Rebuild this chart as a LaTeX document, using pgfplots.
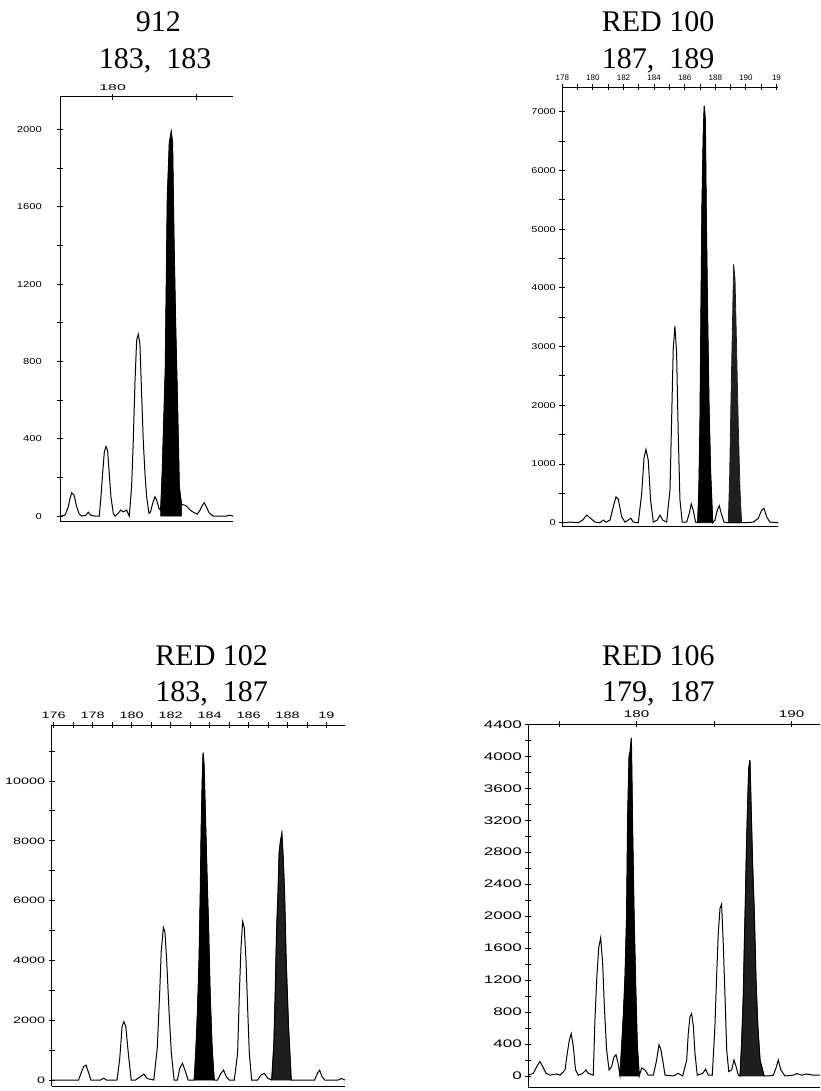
\documentclass[border=0pt]{standalone}
\usepackage{fontspec}
\setmainfont{Liberation Serif}
\newfontfamily\fsA[FakeStretch=1.0]{Liberation Sans}
\newfontfamily\fsB[FakeStretch=1.3]{Liberation Sans}
\newfontfamily\fsC[FakeStretch=1.55]{Liberation Sans}
\newfontfamily\fsD[FakeStretch=1.9]{Liberation Sans}
\usepackage{pgfplots}
\pgfplotsset{compat=1.18}
\pgfplotsset{epg/.style={
  scale only axis,
  axis y line*=left,
  xtick pos=right, xticklabel pos=right,
  tick align=center,
  major tick length=6pt,
  scaled x ticks=false, scaled y ticks=false,
  every tick/.style={black, line width=0.9pt},
  axis line style={line width=0.9pt},
  tick label style={/pgf/number format/assume math mode=true},
  anchor=south west,
},
trace/.style={black, line width=1pt, mark=none},
pk/.style={fill=black, draw=black, line width=0.6pt, mark=none},
pkg/.style={fill=black!88, draw=black!88, line width=0.8pt, mark=none},
}
\newcommand\ttl[1]{\fontsize{30}{36}\selectfont #1}
\begin{document}
\begin{tikzpicture}
\useasboundingbox (0pt,0pt) rectangle (820pt,-1091pt);
% titles
\node[anchor=base] at (158.3pt,-31.7pt) {\ttl{912}};
\node[anchor=base] at (155pt,-68.3pt) {\ttl{183,\ \ 183}};
\node[anchor=base] at (658pt,-31.7pt) {\ttl{RED 100}};
\node[anchor=base] at (658pt,-68.3pt) {\ttl{187,\ \ 189}};
\node[anchor=base] at (211.7pt,-665pt) {\ttl{RED 102}};
\node[anchor=base] at (211.7pt,-701.7pt) {\ttl{183,\ \ 187}};
\node[anchor=base] at (658.3pt,-665pt) {\ttl{RED 106}};
\node[anchor=base] at (658.3pt,-701.7pt) {\ttl{179,\ \ 187}};

% Panel 1: 912
\begin{axis}[epg, at={(60.3pt,-521.7pt)}, width=173pt, height=425pt,
  xmin=173.77, xmax=194.37, ymin=-29, ymax=2169,
  xtick={180,190}, xticklabels={180,},
  ytick={0,200,...,2000}, yticklabels={0,,400,,800,,1200,,1600,,2000},
  xticklabel style={font=\fsD\fontsize{8.4}{9}\selectfont},
  yticklabel style={font=\fsB\fontsize{8.6}{9}\selectfont, xshift=-12pt}]
\addplot[pk] coordinates {(185.71,0)(185.91,230)(186.27,760)(186.51,1640)(186.75,1930)(186.98,1988)(187.14,1930)(187.30,1450)(187.50,1000)(187.74,560)(187.94,150)(188.21,60)(188.21,0)} \closedcycle;
\addplot[trace] coordinates {(173.77,0)(174.33,5)(174.72,48)(174.92,90)(175.12,120)(175.40,110)(175.71,50)(176.03,10)(176.31,0)(176.83,5)(177.10,20)(177.38,5)(177.90,0)(178.41,0)(178.61,100)(178.81,220)(179.01,330)(179.21,360)(179.40,340)(179.60,220)(179.80,100)(180.08,14)(180.28,0)(180.67,14)(180.95,31)(181.27,22)(181.67,31)(181.98,0)(182.26,150)(182.46,390)(182.66,690)(182.86,910)(183.06,940)(183.25,890)(183.45,635)(183.65,390)(183.85,220)(184.05,100)(184.33,14)(184.52,22)(184.76,65)(185.04,100)(185.24,83)(185.52,40)(185.71,30)(185.91,230)(186.27,760)(186.51,1640)(186.75,1930)(186.98,1988)(187.14,1930)(187.30,1450)(187.50,1000)(187.74,560)(187.94,150)(188.21,60)(188.73,55)(189.13,35)(189.60,20)(190.08,10)(190.40,30)(190.67,55)(190.91,70)(191.19,45)(191.51,15)(191.98,0)(193.57,0)(193.97,5)(194.37,0)};
\end{axis}

% Panel 2: RED 100
\begin{axis}[epg, at={(562.3pt,-526.7pt)}, width=216pt, height=439.4pt,
  xmin=178, xmax=192.12, ymin=-68, ymax=7416,
  xtick={178,...,192}, xticklabels={178,,180,,182,,184,,186,,188,,190,,19},
  ytick={0,500,...,7000}, yticklabels={0,,1000,,2000,,3000,,4000,,5000,,6000,,7000},
  xticklabel style={font=\fsA\fontsize{8}{9}\selectfont},
  yticklabel style={font=\fsB\fontsize{8.4}{9}\selectfont}]
\addplot[pk] coordinates {(186.85,0)(186.93,600)(187.00,1700)(187.06,3500)(187.13,5400)(187.22,6700)(187.28,7100)(187.35,6850)(187.41,5250)(187.50,3500)(187.59,2000)(187.69,900)(187.83,0)} \closedcycle;
\addplot[pkg] coordinates {(188.85,0)(188.94,800)(189.02,2000)(189.11,3200)(189.20,4400)(189.29,4150)(189.39,3000)(189.50,1700)(189.61,600)(189.72,0)} \closedcycle;
\addplot[trace] coordinates {(178.00,0)(178.50,10)(179.05,0)(179.33,45)(179.59,130)(179.85,75)(180.14,10)(180.46,0)(180.68,45)(180.85,10)(181.12,45)(181.33,270)(181.51,440)(181.66,400)(181.88,100)(182.10,10)(182.31,45)(182.49,75)(182.64,10)(182.97,0)(183.19,500)(183.34,1100)(183.47,1250)(183.62,1060)(183.77,390)(183.95,10)(184.21,45)(184.38,130)(184.56,45)(184.82,10)(185.04,560)(185.15,1800)(185.25,2950)(185.36,3350)(185.47,2900)(185.58,1500)(185.69,390)(185.84,10)(186.13,10)(186.30,160)(186.43,320)(186.56,210)(186.71,10)(186.85,0)(186.93,600)(187.00,1700)(187.06,3500)(187.13,5400)(187.22,6700)(187.28,7100)(187.35,6850)(187.41,5250)(187.50,3500)(187.59,2000)(187.69,900)(187.83,0)(187.98,45)(188.13,215)(188.26,290)(188.39,160)(188.57,10)(188.85,0)(190.05,0)(190.48,10)(190.81,75)(191.03,215)(191.18,245)(191.36,100)(191.57,10)(192.12,0)};
\end{axis}

% Panel 3: RED 102
\begin{axis}[epg, at={(51.7pt,-1086pt)}, width=293.3pt, height=361pt,
  xmin=175.9, xmax=190.95, ymin=-200, ymax=11873,
  xtick={176,...,190}, xticklabels={176,,178,,180,,182,,184,,186,,188,,19},
  ytick={0,1000,...,11000}, yticklabels={0,,2000,,4000,,6000,,8000,,10000,},
  xticklabel style={font=\fsC\fontsize{9.3}{10}\selectfont},
  yticklabel style={font=\fsC\fontsize{9.3}{10}\selectfont}]
\addplot[pk] coordinates {(183.21,0)(183.29,900)(183.38,2300)(183.46,4000)(183.52,6100)(183.57,8400)(183.63,10200)(183.67,10950)(183.72,10500)(183.79,8800)(183.86,7100)(183.95,5100)(184.03,2900)(184.13,1100)(184.24,0)} \closedcycle;
\addplot[pkg] coordinates {(187.19,0)(187.30,1200)(187.37,2900)(187.44,5000)(187.51,6200)(187.57,7600)(187.64,8000)(187.71,8250)(187.78,7400)(187.85,6200)(187.93,4000)(188.05,1800)(188.19,0)} \closedcycle;
\addplot[trace] coordinates {(175.9,0)(177.28,0)(177.40,220)(177.54,450)(177.66,500)(177.79,250)(177.91,0)(178.40,0)(178.57,60)(178.70,0)(179.25,0)(179.39,700)(179.51,1780)(179.60,1950)(179.70,1800)(179.83,900)(179.98,0)(180.20,0)(180.42,100)(180.63,200)(180.80,50)(181.14,0)(181.32,1100)(181.44,2900)(181.52,4300)(181.63,5100)(181.71,4950)(181.80,4000)(181.92,2300)(182.04,900)(182.18,0)(182.35,0)(182.47,390)(182.61,560)(182.74,330)(182.90,0)(183.21,0)(183.29,900)(183.38,2300)(183.46,4000)(183.52,6100)(183.57,8400)(183.63,10200)(183.67,10950)(183.72,10500)(183.79,8800)(183.86,7100)(183.95,5100)(184.03,2900)(184.13,1100)(184.24,0)(184.41,0)(184.58,220)(184.72,330)(184.86,110)(185.01,0)(185.27,0)(185.44,900)(185.53,2900)(185.61,4400)(185.70,5300)(185.78,5100)(185.87,4000)(185.96,2300)(186.04,900)(186.16,0)(186.47,0)(186.64,170)(186.81,220)(186.99,60)(187.19,0)(187.30,1200)(187.37,2900)(187.44,5000)(187.51,6200)(187.57,7600)(187.64,8000)(187.71,8250)(187.78,7400)(187.85,6200)(187.93,4000)(188.05,1800)(188.19,0)(188.53,0)(189.39,0)(189.53,220)(189.65,330)(189.77,110)(189.91,0)(190.59,0)(190.77,50)(190.95,0)};
\end{axis}

% Panel 4: RED 106
\begin{axis}[epg, at={(528.3pt,-1087.3pt)}, width=291.7pt, height=363pt,
  xmin=173.01, xmax=191.83, ymin=-142, ymax=4400,
  xtick={175,180,185,190}, xticklabels={,180,,190},
  ytick={0,200,...,4400}, yticklabels={0,,400,,800,,1200,,1600,,2000,,2400,,2800,,3200,,3600,,4000,,4400},
  xticklabel style={font=\fsC\fontsize{9.8}{10}\selectfont},
  yticklabel style={font=\fsC\fontsize{11}{12}\selectfont}]
\addplot[pk] coordinates {(178.92,0)(179.03,370)(179.14,750)(179.25,1250)(179.35,2000)(179.42,3250)(179.51,4000)(179.57,4050)(179.66,4230)(179.74,3100)(179.83,2050)(179.94,1120)(180.04,400)(180.17,0)} \closedcycle;
\addplot[pkg] coordinates {(186.67,0)(186.77,400)(186.88,1000)(186.95,1650)(187.01,2150)(187.08,2800)(187.14,3250)(187.23,3850)(187.31,3950)(187.40,3250)(187.48,2650)(187.59,2050)(187.70,1200)(187.81,650)(187.96,200)(188.22,0)} \closedcycle;
\addplot[trace] coordinates {(173.01,10)(173.33,33)(173.55,117)(173.76,180)(173.94,117)(174.15,33)(174.41,10)(174.84,25)(175.05,10)(175.38,75)(175.53,290)(175.66,450)(175.78,530)(175.91,370)(176.06,75)(176.24,10)(176.52,33)(176.73,75)(176.88,33)(177.20,10)(177.31,700)(177.42,1200)(177.55,1600)(177.68,1730)(177.81,1400)(177.91,900)(178.06,330)(178.22,75)(178.39,120)(178.54,240)(178.67,265)(178.80,160)(178.92,10)(179.03,370)(179.14,750)(179.25,1250)(179.35,2000)(179.42,3250)(179.51,4000)(179.57,4050)(179.66,4230)(179.74,3100)(179.83,2050)(179.94,1120)(180.04,400)(180.17,0)(180.32,100)(180.54,75)(180.75,10)(181.08,10)(181.29,200)(181.44,390)(181.55,340)(181.68,200)(181.83,10)(182.37,0)(182.69,33)(182.97,0)(183.23,200)(183.33,530)(183.44,740)(183.55,780)(183.66,620)(183.76,290)(183.91,10)(184.26,33)(184.45,85)(184.62,10)(184.88,10)(185.05,620)(185.16,1250)(185.27,1800)(185.38,2100)(185.48,2150)(185.59,1650)(185.70,1000)(185.81,330)(185.94,55)(186.13,75)(186.28,200)(186.41,120)(186.56,10)(186.67,0)(186.77,400)(186.88,1000)(186.95,1650)(187.01,2150)(187.08,2800)(187.14,3250)(187.23,3850)(187.31,3950)(187.40,3250)(187.48,2650)(187.59,2050)(187.70,1200)(187.81,650)(187.96,200)(188.22,0)(188.49,0)(188.82,10)(188.99,100)(189.14,200)(189.29,80)(189.57,0)(190.11,10)(190.32,30)(190.65,10)(190.97,25)(191.40,10)(191.83,10)};
\end{axis}
\end{tikzpicture}
\end{document}
